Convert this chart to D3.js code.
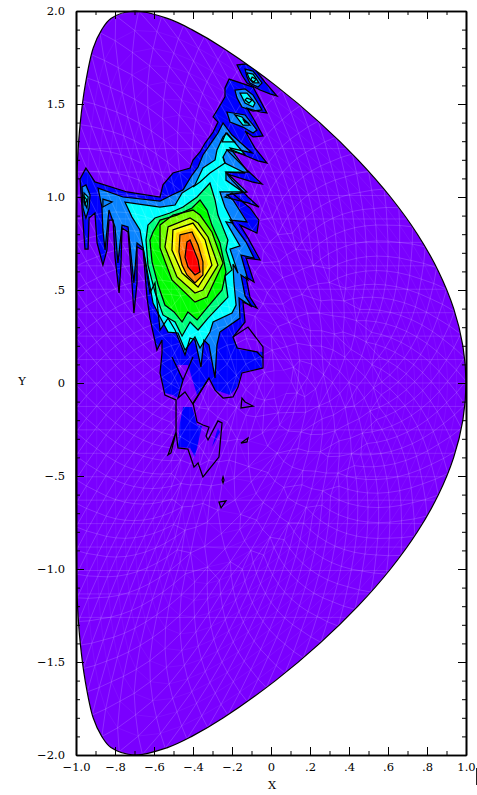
<!DOCTYPE html>
<html><head><meta charset="utf-8">
<style>html,body{margin:0;padding:0;background:#fff}svg{display:block}</style>
<script src="https://cdn.jsdelivr.net/npm/d3@7/dist/d3.min.js"></script>
</head><body><svg id="c" width="477" height="795"></svg>
<script>
const xMajor=[-1,-.8,-.6,-.4,-.2,0,.2,.4,.6,.8,1];
const xLabels=["\u22121.0","\u2212.8","\u2212.6","\u2212.4","\u2212.2","0",".2",".4",".6",".8","1.0"];
const xMinor=[-.9,-.7,-.5,-.3,-.1,.1,.3,.5,.7,.9];
const yMajor=[-2,-1.5,-1,-.5,0,.5,1,1.5,2];
const yLabels=["\u22122.0","\u22121.5","\u22121.0","\u2212.5","0",".5","1.0","1.5","2.0"];
const yMinor=[-1.9,-1.8,-1.7,-1.6,-1.4,-1.3,-1.2,-1.1,-.9,-.8,-.7,-.6,-.4,-.3,-.2,-.1,.1,.2,.3,.4,.6,.7,.8,.9,1.1,1.2,1.3,1.4,1.6,1.7,1.8,1.9];
const boundary=[[1,0],[.984,.2],[.937,.4],[.859,.6],[.751,.8],[.613,1],[.446,1.2],[.25,1.4],[.023,1.6],[-.244,1.8],[-.406,1.9],[-.531,1.96],[-.7,2],[-.821,1.96],[-.868,1.9],[-.912,1.8],[-.953,1.6],[-.978,1.4],[-.992,1.2],[-.997,1],[-.999,.8],[-1,.6],[-1,.4],[-1,.2],[-1,0],[-1,-.2],[-1,-.4],[-1,-.6],[-.999,-.8],[-.997,-1],[-.992,-1.2],[-.978,-1.4],[-.953,-1.6],[-.912,-1.8],[-.868,-1.9],[-.821,-1.96],[-.7,-2],[-.531,-1.96],[-.406,-1.9],[-.244,-1.8],[.023,-1.6],[.25,-1.4],[.446,-1.2],[.613,-1],[.751,-.8],[.859,-.6],[.937,-.4],[.984,-.2]];
const meshCenter=[.062,0];
const ringFractions=[.045,.09,.135,.18,.225,.27,.315,.36,.405,.45,.495,.54,.585,.63,.675,.72,.765,.81,.855,.9,.95,1];
const ringNodes=[6,6,13,13,13,26,26,26,39,39,39,78,78,78,78,78,78,78,78,78,78,78];
const meshLevels=[1.26,1.134,1.008,.882,.756,.63,.504,.378,.252,.126,0,-.126,-.252,-.378,-.504,-.63,-.756,-.882,-1.008,-1.134,-1.26];

const armUpper=[[-.949,1.156],[-.903,1.081],[-.738,1.027],[-.569,1],[-.554,1.065],[-.503,1.129],[-.415,1.156],[-.4,1.199],[-.364,1.242],[-.338,1.29],[-.297,1.349],[-.272,1.403],[-.297,1.43],[-.251,1.511],[-.236,1.538],[-.236,1.586],[-.215,1.634],[-.092,1.591],[-.021,1.452],[-.056,1.457],[-.123,1.478],[-.092,1.425],[-.041,1.328],[-.092,1.323],[-.133,1.355],[-.082,1.263],[-.021,1.183],[-.067,1.194],[-.2,1.253],[-.226,1.253],[-.123,1.145],[-.046,1.07],[-.097,1.081],[-.226,1.124],[-.2,1.091],[-.118,1],[-.062,.946],[-.118,.968],[-.236,1],[-.2,1.022],[-.108,.941],[-.062,.876],[-.072,.806],[-.159,.849],[-.118,.78],[-.056,.661],[-.128,.672],[-.087,.543],[-.128,.57],[-.108,.462],[-.072,.403],[-.144,.435],[-.133,.328],[-.195,.247]];
const lowerBlack=[[-.174,.188],[-.072,.167],[-.041,.134],[-.041,.081],[-.149,.054],[-.169,-.022],[-.195,-.075],[-.246,-.081],[-.287,-.038],[-.318,.027],[-.4,-.108],[-.379,-.21],[-.349,-.226],[-.318,-.237],[-.333,-.285],[-.323,-.306],[-.272,-.204],[-.251,-.215],[-.267,-.398],[-.349,-.505],[-.374,-.43],[-.395,-.452],[-.426,-.355],[-.477,-.349],[-.487,-.263],[-.513,-.376],[-.528,-.387],[-.487,-.263],[-.487,-.091],[-.544,-.065],[-.569,.054],[-.559,.161]];
const lowerBlue=[[-.159,.177],[-.041,.167],[-.046,.081],[-.149,.059],[-.174,-.022],[-.21,-.065],[-.287,-.038],[-.313,.027],[-.379,-.065],[-.426,.097],[-.482,.097],[-.451,.016],[-.477,-.081],[-.503,-.065],[-.544,-.054],[-.569,.054],[-.559,.161]];
const armProngs=[[-.559,.231],[-.585,.177],[-.621,.349],[-.636,.462],[-.656,.715],[-.687,.731],[-.687,.538],[-.703,.376],[-.713,.538],[-.733,.812],[-.764,.833],[-.769,.645],[-.779,.484],[-.8,.677],[-.81,.876],[-.831,.876],[-.841,.715],[-.862,.634],[-.892,.753],[-.903,.914],[-.933,.887],[-.938,.72],[-.954,.72],[-.964,.866],[-.974,1.011],[-.979,1.097]];
const lowerLobe=[[-.451,-.129],[-.405,-.129],[-.379,-.226],[-.354,-.231],[-.39,-.398],[-.415,-.349],[-.477,-.344],[-.467,-.215]];
const lowerSliver=[[-.272,-.242],[-.303,-.344],[-.262,-.263]];
const topBlob=[[-.174,1.71],[-.133,1.715],[-.092,1.699],[-.031,1.618],[.031,1.543],[-.005,1.554],[-.056,1.575],[-.123,1.613],[-.149,1.656]];

const band2=[[-.887,1.048],[-.759,1],[-.569,.978],[-.508,1.011],[-.451,1.038],[-.405,1.118],[-.374,1.161],[-.349,1.226],[-.297,1.306],[-.272,1.344],[-.246,1.398],[-.2,1.333],[-.097,1.237],[-.21,1.263],[-.118,1.134],[-.231,1.134],[-.123,1.027],[-.226,1.011],[-.195,.984],[-.123,.866],[-.21,.876],[-.128,.758],[-.087,.672],[-.154,.688],[-.118,.554],[-.154,.581],[-.133,.468],[-.097,.409],[-.164,.457],[-.159,.349],[-.262,.274],[-.277,.204],[-.287,.027],[-.318,.204],[-.344,.231],[-.359,.086],[-.39,.231],[-.415,.242],[-.441,.151],[-.492,.285],[-.528,.349],[-.569,.285],[-.595,.538],[-.621,.484],[-.656,.726],[-.687,.753],[-.703,.538],[-.733,.839],[-.764,.849],[-.785,.645],[-.8,.839],[-.831,.93],[-.851,.715],[-.862,.823],[-.867,.946]];
const band3=[[-.749,.973],[-.569,.946],[-.492,.957],[-.456,1.022],[-.39,1.065],[-.349,1.156],[-.287,1.199],[-.277,1.253],[-.246,1.323],[-.226,1.344],[-.133,1.226],[-.226,1.253],[-.246,1.215],[-.236,1.183],[-.133,1.129],[-.231,1.134],[-.231,1.091],[-.144,1.027],[-.226,1.027],[-.262,1.027],[-.236,.946],[-.195,.86],[-.231,.866],[-.159,.737],[-.21,.72],[-.169,.591],[-.195,.64],[-.19,.538],[-.179,.419],[-.2,.376],[-.297,.328],[-.313,.274],[-.364,.188],[-.39,.247],[-.441,.177],[-.477,.269],[-.528,.274],[-.569,.355],[-.605,.43],[-.631,.581],[-.672,.823],[-.713,.892]];
const band4=[[-.631,.849],[-.595,.887],[-.518,.914],[-.451,.946],[-.379,1],[-.313,1.075],[-.287,.984],[-.272,.903],[-.221,.769],[-.231,.715],[-.2,.608],[-.236,.575],[-.221,.462],[-.323,.349],[-.374,.285],[-.415,.328],[-.456,.253],[-.492,.328],[-.554,.366],[-.595,.489],[-.631,.634],[-.641,.769]];
const band5=[[-.605,.812],[-.569,.876],[-.482,.903],[-.405,.941],[-.364,.984],[-.328,.93],[-.303,.849],[-.262,.753],[-.241,.651],[-.231,.597],[-.251,.5],[-.338,.392],[-.379,.339],[-.426,.382],[-.456,.328],[-.497,.382],[-.544,.419],[-.579,.527],[-.61,.651],[-.621,.769]];
const band6=[[-.569,.849],[-.503,.903],[-.4,.93],[-.364,.903],[-.303,.812],[-.246,.645],[-.328,.462],[-.39,.435],[-.508,.554],[-.569,.726]];
const band7=[[-.528,.839],[-.415,.887],[-.374,.86],[-.323,.785],[-.272,.634],[-.349,.5],[-.39,.484],[-.482,.57],[-.544,.731]];
const band8=[[-.503,.823],[-.4,.86],[-.338,.769],[-.303,.634],[-.374,.516],[-.456,.591],[-.508,.715]];
const band9=[[-.487,.806],[-.405,.833],[-.354,.753],[-.323,.634],[-.379,.538],[-.446,.597],[-.492,.715]];
const band10=[[-.467,.796],[-.405,.812],[-.374,.742],[-.349,.651],[-.349,.581],[-.39,.538],[-.431,.581],[-.456,.634],[-.472,.704]];
const band11=[[-.431,.758],[-.415,.769],[-.374,.661],[-.364,.597],[-.39,.581],[-.426,.624],[-.441,.677]];

const blobMidA=[[-.133,1.688],[-.092,1.677],[-.046,1.613],[-.067,1.591],[-.108,1.613],[-.123,1.645]];
const blobMidB=[[-.185,1.575],[-.133,1.581],[-.092,1.548],[-.046,1.468],[-.092,1.462],[-.149,1.484],[-.174,1.532]];
const blobMidC=[[-.226,1.457],[-.133,1.441],[-.072,1.36],[-.092,1.344],[-.144,1.376],[-.21,1.403]];
const blobMidD=[[-.969,1.054],[-.949,1.065],[-.928,1.011],[-.933,.941],[-.949,.887],[-.964,.941]];
const blobCyanA=[[-.123,1.667],[-.092,1.661],[-.062,1.613],[-.092,1.613],[-.113,1.64]];
const blobCyanB=[[-.159,1.559],[-.123,1.559],[-.082,1.505],[-.092,1.484],[-.133,1.505]];
const blobCyanC=[[-.185,1.441],[-.149,1.43],[-.108,1.387],[-.144,1.387]];
const blobCyanD=[[-.959,1.022],[-.938,1],[-.944,.941],[-.959,.973]];
const ringA=[[-.097,1.645],[-.077,1.634],[-.087,1.618],[-.103,1.629]];
const ringB=[[-.123,1.532],[-.097,1.522],[-.113,1.505],[-.133,1.522]];
const ringC=[[-.144,1.419],[-.118,1.398],[-.133,1.398]];
const ringD=[[-.959,1.005],[-.944,.984],[-.954,.962]];

const islandOne=[[-.149,-.081],[-.154,-.134],[-.092,-.124],[-.133,-.102]];
const islandTwo=[[-.154,-.323],[-.118,-.296],[-.123,-.317]];
const islandThree=[[-.246,-.505],[-.251,-.522],[-.246,-.538],[-.241,-.522]];
const islandFour=[[-.267,-.64],[-.231,-.634],[-.256,-.672]];
const cyanTriangle=[[-.231,1.344],[-.251,1.296],[-.185,1.296]];
const armNick=[[-.862,.989],[-.815,.973],[-.862,.946]];
const openLoop=[[-.195,.247],[-.118,.301],[-.041,.194],[-.041,.134]];
const openWedge=[[-.508,.14],[-.451,.016],[-.477,-.081],[-.441,-.048],[-.4,-.113],[-.318,.027]];
const openWedgeB=[[-.451,.016],[-.4,.14]];
const openCyan=[[-.246,1.215],[-.236,1.183],[-.313,1.129],[-.364,1.081],[-.4,1.054]];

const svg=d3.select("#c");
const x=d3.scaleLinear().domain([-1,1]).range([76,466]);
const y=d3.scaleLinear().domain([-2,2]).range([755,11]);
const line=d3.line().x(d=>x(d[0])).y(d=>y(d[1])).curve(d3.curveLinearClosed);
const open=d3.line().x(d=>x(d[0])).y(d=>y(d[1]));
const outer=d3.line().x(d=>x(d[0])).y(d=>y(d[1])).curve(d3.curveCatmullRomClosed.alpha(.5));
const PURPLE="#7a00ff",BLUE="#0000ff",DODGER="#0a84ff",CYAN="#00ffff",SPRING="#00ff80",GREEN="#00ff00",LIME="#70ff00",CHART="#ccff00",YELLOW="#ffff00",GOLD="#ffc800",ORANGE="#ff8000",RED="#ff0000";
const outlineD=outer(boundary);
svg.append("defs").append("clipPath").attr("id","shape").append("path").attr("d",outlineD);
const content=svg.append("g").attr("clip-path","url(#shape)");
content.append("path").attr("d",outlineD).attr("fill",PURPLE);

const blackMain=armUpper.concat(lowerBlack,armProngs);
const blueMain=armUpper.concat(lowerBlue,armProngs);
const fills=[[blueMain,BLUE],[lowerLobe,BLUE],[lowerSliver,BLUE],[topBlob,BLUE],
 [band2,DODGER],[blobMidA,DODGER],[blobMidB,DODGER],[blobMidC,DODGER],[blobMidD,DODGER],
 [band3,CYAN],[blobCyanA,CYAN],[blobCyanB,CYAN],[blobCyanC,CYAN],[blobCyanD,CYAN],
 [band4,SPRING],[band5,GREEN],[band6,LIME],[band7,CHART],[band8,YELLOW],[band9,GOLD],[band10,ORANGE],[band11,RED]];
content.append("g").selectAll("path").data(fills).join("path")
 .attr("d",d=>line(d[0])).attr("fill",d=>d[1]);

// triangulated mesh overlay: nodes placed on scaled copies of the boundary
const probe=svg.append("path").attr("d",outlineD).attr("fill","none").attr("stroke","none");
const len=probe.node().getTotalLength();
const cx=x(meshCenter[0]),cy=y(meshCenter[1]);
const shift=i=>i%2?.5:0;
const rings=ringFractions.map((r,i)=>{
  const n=ringNodes[i];
  return d3.range(n).map(j=>{
    const f=(j+shift(i))/n;
    const p=probe.node().getPointAtLength(f*len);
    return {f,x:cx+r*(p.x-cx),y:cy+r*(p.y-cy)};
  });
});
let ringPath="",spokePath="";
rings.forEach((ring,i)=>{
  ring.forEach((p,j)=>{const q=ring[(j+1)%ring.length];ringPath+=`M${p.x},${p.y}L${q.x},${q.y}`;});
  if(i===0)return;
  const inner=rings[i-1],ni=inner.length;
  ring.forEach(q=>{
    const u=q.f*ni-shift(i-1),lo=Math.floor(u+1e-6);
    [lo,lo+1].forEach(k=>{const p=inner[((k%ni)+ni)%ni];spokePath+=`M${p.x},${p.y}L${q.x},${q.y}`;});
  });
});
const mesh=content.append("g").attr("fill","none").attr("stroke","#fff");
mesh.append("path").attr("d",ringPath).attr("stroke-width",.6).attr("stroke-opacity",.1);
mesh.append("path").attr("d",spokePath).attr("stroke-width",.7).attr("stroke-opacity",.24);
mesh.selectAll("line").data(meshLevels).join("line")
 .attr("x1",x(-1)).attr("x2",x(1)).attr("y1",d=>y(d)).attr("y2",d=>y(d))
 .attr("stroke-width",.7).attr("stroke-opacity",.2);

// black contours
const closedContours=[blackMain,topBlob,band2,blobMidA,blobMidB,blobMidC,blobMidD,band3,blobCyanA,blobCyanB,blobCyanC,blobCyanD,ringA,ringB,ringC,ringD,band4,band5,band6,band7,band8,band10,band11,islandOne,islandTwo,islandThree,islandFour,cyanTriangle,armNick];
const openContours=[openLoop,openWedge,openWedgeB,openCyan];
const ink=content.append("g").attr("fill","none").attr("stroke","#000").attr("stroke-width",1.25).attr("stroke-linejoin","miter");
ink.selectAll("path.c").data(closedContours).join("path").attr("class","c").attr("d",line);
ink.selectAll("path.o").data(openContours).join("path").attr("class","o").attr("d",open);

svg.append("path").attr("d",outlineD).attr("fill","none").attr("stroke","#000").attr("stroke-width",1.2);

// axes
const H=755,L=76,R=466,T=11,major=-8,minor=-4;
function style(g){g.select(".domain").attr("stroke","#000").attr("stroke-width",1.6);g.selectAll("line").attr("stroke","#000").attr("stroke-width",1);g.selectAll("text").attr("font-family","'DejaVu Serif'").attr("font-size",11.5).attr("fill","#000");}
svg.append("g").attr("transform",`translate(0,${H})`).call(d3.axisBottom(x).tickValues(xMajor).tickFormat((d,i)=>xLabels[i]).tickSizeInner(major).tickSizeOuter(0).tickPadding(8)).call(style);
svg.append("g").attr("transform",`translate(0,${H})`).call(d3.axisBottom(x).tickValues(xMinor).tickFormat("").tickSizeInner(minor).tickSizeOuter(0)).call(style);
svg.append("g").attr("transform",`translate(0,${T})`).call(d3.axisTop(x).tickValues(xMajor).tickFormat("").tickSizeInner(major).tickSizeOuter(0)).call(style);
svg.append("g").attr("transform",`translate(0,${T})`).call(d3.axisTop(x).tickValues(xMinor).tickFormat("").tickSizeInner(minor).tickSizeOuter(0)).call(style);
svg.append("g").attr("transform",`translate(${L},0)`).call(d3.axisLeft(y).tickValues(yMajor).tickFormat((d,i)=>yLabels[i]).tickSizeInner(major).tickSizeOuter(0).tickPadding(11)).call(style);
svg.append("g").attr("transform",`translate(${L},0)`).call(d3.axisLeft(y).tickValues(yMinor).tickFormat("").tickSizeInner(minor).tickSizeOuter(0)).call(style);
svg.append("g").attr("transform",`translate(${R},0)`).call(d3.axisRight(y).tickValues(yMajor).tickFormat("").tickSizeInner(major).tickSizeOuter(0)).call(style);
svg.append("g").attr("transform",`translate(${R},0)`).call(d3.axisRight(y).tickValues(yMinor).tickFormat("").tickSizeInner(minor).tickSizeOuter(0)).call(style);
svg.append("text").attr("x",272).attr("y",789).attr("text-anchor","middle").attr("font-family","'DejaVu Serif'").attr("font-size",11.5).text("X");
svg.append("text").attr("x",22).attr("y",385).attr("text-anchor","middle").attr("font-family","'DejaVu Serif'").attr("font-size",11.5).text("Y");
svg.append("line").attr("x1",476.5).attr("x2",476.5).attr("y1",768).attr("y2",785).attr("stroke","#222").attr("stroke-width",1);
</script></body></html>
